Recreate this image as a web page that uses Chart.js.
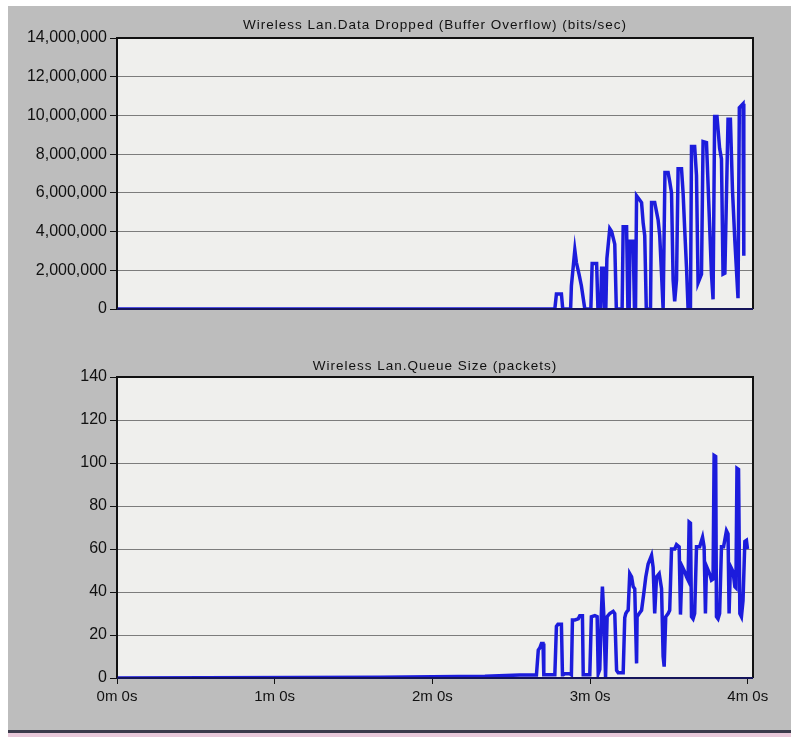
<!DOCTYPE html>
<html>
<head>
<meta charset="utf-8">
<title>Wireless Lan</title>
<script src="https://cdn.jsdelivr.net/npm/chart.js@4.4.1/dist/chart.umd.min.js"></script>
<style>
  html, body { margin: 0; padding: 0; background: #fff; }
  body { width: 791px; height: 737px; position: relative; overflow: hidden; }
  #frame { position: absolute; left: 8px; top: 6px; width: 783px; height: 724px; background: #bdbdbd; }
  #rule { position: absolute; left: 8px; top: 730px; width: 783px; height: 3px; background: #3c3c4c; }
  #pink { position: absolute; left: 8px; top: 733px; width: 783px; height: 4px; background: #e9c9da; }
  canvas { position: absolute; left: 0; }
  #dropChart { top: 0; }
  #queueChart { top: 350px; }
</style>
</head>
<body>
<div id="frame"></div>
<div id="rule"></div>
<div id="pink"></div>
<canvas id="dropChart" width="791" height="350"></canvas>
<canvas id="queueChart" width="791" height="387"></canvas>
<script>
// ---------- Data (time in seconds) ----------
const dropTimes = [
  0, 166.6, 167.2, 169.1, 169.6, 172.6, 172.9, 174.2, 174.8, 175.8,
  176.7, 177.4, 178.0, 180.3, 180.8, 182.5, 183.0, 184.0, 184.4, 185.0,
  185.5, 186.0, 186.4, 187.5, 188.2, 189.4, 190.0, 192.2, 192.6, 193.9,
  194.4, 194.9, 195.2, 196.4, 196.9, 197.3, 197.7, 199.6, 200.2, 200.8,
  201.4, 203.0, 203.4, 204.6, 205.9, 206.5, 207.2, 207.8, 208.1, 208.5,
  209.7, 210.3, 211.0, 211.6, 212.2, 212.9, 213.5, 214.8, 215.4, 216.0,
  216.7, 217.3, 218.2, 218.6, 219.8, 220.5, 221.1, 222.4, 223.0, 224.3,
  224.9, 226.2, 226.8, 227.4, 228.3, 229.3, 230.0, 230.6, 231.3, 232.5,
  233.4, 234.2, 235.1, 236.3, 236.8, 238.2, 238.5
];
// dropped data, millions of bits/sec
const dropMbits = [
  0, 0, 0.78, 0.78, 0, 0, 1.2, 3.05, 2.4, 1.8,
  1.2, 0.56, 0, 0, 2.35, 2.35, 0, 0, 2.1, 2.1,
  0, 0, 2.6, 4.15, 4.0, 3.35, 0, 0, 4.25, 4.25,
  0, 0, 3.5, 3.5, 0, 0, 5.85, 5.5, 4.45, 3.8,
  0, 0, 5.5, 5.5, 4.6, 3.8, 1.8, 0, 0, 7.05,
  7.05, 6.6, 6.0, 1.5, 0.4, 1.5, 7.25, 7.25, 6.0, 4.15,
  2.15, 0, 0, 8.4, 8.4, 6.9, 1.35, 1.8, 8.65, 8.6,
  6.45, 1.8, 0.5, 9.95, 9.95, 8.3, 7.75, 1.8, 1.85, 9.8,
  9.8, 6.1, 3.5, 0.56, 10.4, 10.6, 2.75
];

const queueTimes = [
  0, 100, 140, 153.3, 159.6, 160.3, 160.9, 161.5, 162.1, 162.4,
  166.6, 167.2, 167.8, 169.1, 169.5, 169.8, 170.4, 172.3, 172.9, 173.3,
  174.2, 175.5, 176.1, 177.1, 177.4, 178.0, 179.9, 180.5, 181.8, 182.7,
  183.1, 183.7, 184.3, 184.7, 185.2, 185.9, 186.5, 187.5, 188.8, 189.4,
  190.1, 190.7, 192.6, 193.2, 193.6, 194.1, 194.5, 195.1, 195.8, 196.4,
  197.0, 197.7, 197.9, 198.7, 199.6, 200.4, 201.2, 202.1, 203.4, 204.0,
  204.6, 205.3, 206.3, 207.2, 207.8, 208.2, 208.8, 209.7, 210.3, 211.0,
  212.2, 212.9, 213.9, 214.4, 215.0, 216.0, 216.7, 217.3, 217.7, 218.2,
  218.6, 219.2, 219.8, 220.5, 221.7, 222.8, 223.4, 223.9, 224.3, 225.5,
  226.2, 226.8, 227.2, 227.8, 228.1, 228.7, 229.3, 230.0, 230.8, 231.9,
  232.5, 232.9, 233.4, 234.4, 235.1, 235.5, 235.9, 236.5, 237.0, 237.6,
  238.2, 238.9, 239.5, 239.9
];
const queueSizes = [
  0, 0.4, 0.8, 1.4, 1.4, 13, 14, 16, 16, 1.5,
  1.5, 24, 25, 25, 1.5, 1.5, 2, 2, 1.5, 27,
  27, 27.5, 29, 29, 1.5, 1.5, 1.5, 28.5, 29, 28.5,
  2, 4, 30, 42.5, 30, 0.5, 28.5, 30, 31, 30,
  3.5, 2.5, 2.5, 28, 30, 31, 31.5, 48.5, 47, 42.5,
  41.5, 6.8, 28.5, 30, 31.5, 39, 47, 53, 57, 51.5,
  30, 47, 48.5, 41.5, 10, 5.3, 28.5, 30, 31.5, 60,
  60, 62, 61, 29.5, 52, 49.5, 47, 45.5, 72.5, 72,
  28.5, 27.5, 30, 61, 61, 65.5, 61, 30, 52, 48.5,
  45.5, 46, 103.5, 103, 28.5, 27.5, 30, 61, 61, 68.5,
  67, 30, 52, 49.5, 42.5, 42, 97.5, 97, 30, 28.5,
  36, 63.5, 64, 60
];

const timeTicks = [0, 60, 120, 180, 240];
const timeLabels = ["0m 0s", "1m 0s", "2m 0s", "3m 0s", "4m 0s"];
const dropTicks = [0, 2e6, 4e6, 6e6, 8e6, 10e6, 12e6, 14e6];
const queueTicks = [0, 20, 40, 60, 80, 100, 120, 140];

const FONT = "'Liberation Sans', Arial, sans-serif";
const LINE_BLUE = "#1c1cdc";

// ---------- Panel background, frame and title ----------
const panelPlugin = {
  id: "panel",
  beforeDraw(chart, args, opts) {
    const { ctx, chartArea: a } = chart;
    ctx.save();
    ctx.fillStyle = "#efefed";
    ctx.fillRect(a.left, a.top, a.right - a.left, a.bottom - a.top);
    ctx.fillStyle = "#111";
    ctx.font = "13.5px " + FONT;
    ctx.letterSpacing = "1px";
    ctx.textAlign = "center";
    ctx.textBaseline = "middle";
    ctx.fillText(opts.text, (a.left + a.right) / 2, a.top - opts.offset);
    ctx.restore();
  },
  afterDraw(chart) {
    const { ctx, chartArea: a } = chart;
    ctx.save();
    ctx.strokeStyle = "#111";
    ctx.lineWidth = 2;
    ctx.beginPath();
    ctx.moveTo(a.left, a.bottom);
    ctx.lineTo(a.left, a.top);
    ctx.lineTo(a.right, a.top);
    ctx.lineTo(a.right, a.bottom);
    ctx.stroke();
    ctx.strokeStyle = "#14145a";
    ctx.lineWidth = 2;
    ctx.beginPath();
    ctx.moveTo(a.left, a.bottom);
    ctx.lineTo(a.right, a.bottom);
    ctx.stroke();
    ctx.restore();
  }
};

function toPoints(xs, ys, scale) {
  return xs.map((t, i) => ({ x: t, y: ys[i] * scale }));
}

function yAxis(ticks, fmt) {
  return {
    min: ticks[0],
    max: ticks[ticks.length - 1],
    afterFit(scale) { scale.width = 117; },
    afterBuildTicks(scale) { scale.ticks = ticks.map(v => ({ value: v })); },
    grid: { color: "#7c7c7c", lineWidth: 1, tickLength: 7, tickColor: "#111", drawTicks: true },
    border: { display: false },
    ticks: {
      color: "#111",
      padding: 3,
      font: { family: FONT, size: 16 },
      callback: fmt
    }
  };
}

function makeChart(id, points, ticks, fmt, title, offset, showTime) {
  return new Chart(document.getElementById(id), {
    type: "line",
    data: {
      datasets: [{
        data: points,
        borderColor: LINE_BLUE,
        borderWidth: 3.5,
        pointRadius: 0,
        tension: 0,
        fill: false
      }]
    },
    options: {
      responsive: false,
      animation: false,
      events: [],
      layout: { padding: showTime ? { top: 27, right: 38, bottom: 29, left: 0 } : { top: 38, right: 38, bottom: 11, left: 0 } },
      plugins: {
        legend: { display: false },
        tooltip: { enabled: false },
        panel: { text: title, offset: offset }
      },
      scales: {
        x: {
          type: "linear",
          min: 0,
          max: 242,
          display: showTime,
          afterFit(scale) { scale.height = 30; },
          afterBuildTicks(scale) { scale.ticks = timeTicks.map(v => ({ value: v })); },
          grid: { drawOnChartArea: false, tickLength: 6, tickColor: "#111", color: "#111" },
          border: { display: false },
          ticks: {
            color: "#111",
            padding: 4,
            maxRotation: 0,
            font: { family: FONT, size: 15 },
            callback: (v) => timeLabels[timeTicks.indexOf(v)]
          }
        },
        y: yAxis(ticks, fmt)
      }
    },
    plugins: [panelPlugin]
  });
}

makeChart(
  "dropChart",
  toPoints(dropTimes, dropMbits, 1e6),
  dropTicks,
  (v) => v.toLocaleString("en-US"),
  "Wireless Lan.Data Dropped (Buffer Overflow) (bits/sec)",
  13,
  false
);

makeChart(
  "queueChart",
  toPoints(queueTimes, queueSizes, 1),
  queueTicks,
  (v) => String(v),
  "Wireless Lan.Queue Size (packets)",
  11,
  true
);
</script>
</body>
</html>
